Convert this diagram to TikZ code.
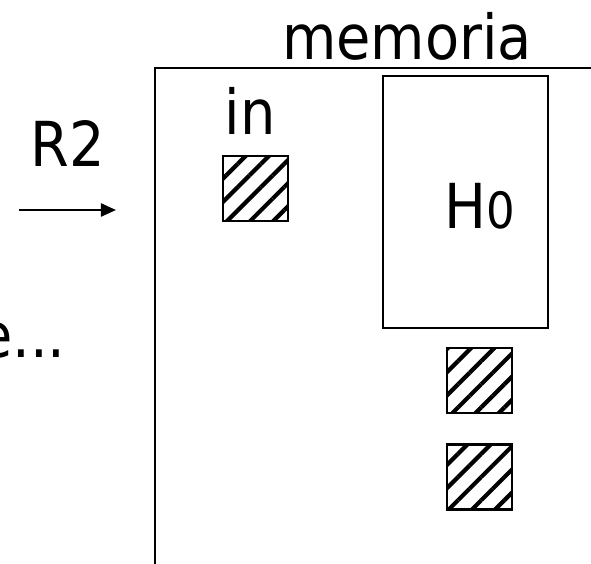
\documentclass[tikz,border=0pt]{standalone}
\usepackage{fontspec}
\setmainfont{DejaVu Sans Condensed}
\usetikzlibrary{arrows.meta,patterns.meta}
\tikzset{
  lbl/.style={inner sep=0pt, font=\fontsize{31}{31}\selectfont},
  hatchbox/.style={draw=black, line width=1.1pt, minimum width=32.5pt, minimum height=32.5pt,
    inner sep=0pt,
    pattern={Lines[angle=45, distance=8.2pt, line width=2.1pt]}, pattern color=black},
  framebox/.style={draw=black, line width=0.8pt, inner sep=0pt},
}
\begin{document}
\begin{tikzpicture}[x=0.5pt, y=-0.5pt]
  \useasboundingbox (0,0) rectangle (591,564);
  % memory area, running off the right and bottom edges
  \draw[line width=1.2pt] (155,68) rectangle (700,700);
  \node[lbl, anchor=base] (mem) at (407,59) {memoria};
  % register label and transfer arrow
  \node[lbl, anchor=base] (r2) at (68,166) {R2};
  \coordinate (arrs) at (19,210);
  \coordinate (arre) at (116,210);
  \draw[line width=1.15pt, -{Triangle[length=7.5pt, width=6.5pt]}] (arrs) -- (arre);
  % trailing text cut at the left edge
  \node[lbl, anchor=base east] (dots) at (66,357) {e...};
  % input buffer
  \node[lbl, anchor=base] (in) at (250,134) {in};
  \node[hatchbox] (inbuf) at (255.5,188.5) {};
  % heap H0
  \node[framebox, minimum width=82.5pt, minimum height=126pt] (h0) at (465.5,202) {};
  \node[lbl, anchor=base] (h0lbl) at (480,228) {H{\fontsize{25}{25}\selectfont 0}};
  % buffers below the heap
  \node[hatchbox] (b1) at (479.5,380.5) {};
  \node[hatchbox] (b2) at (479.5,477) {};
\end{tikzpicture}
\end{document}
